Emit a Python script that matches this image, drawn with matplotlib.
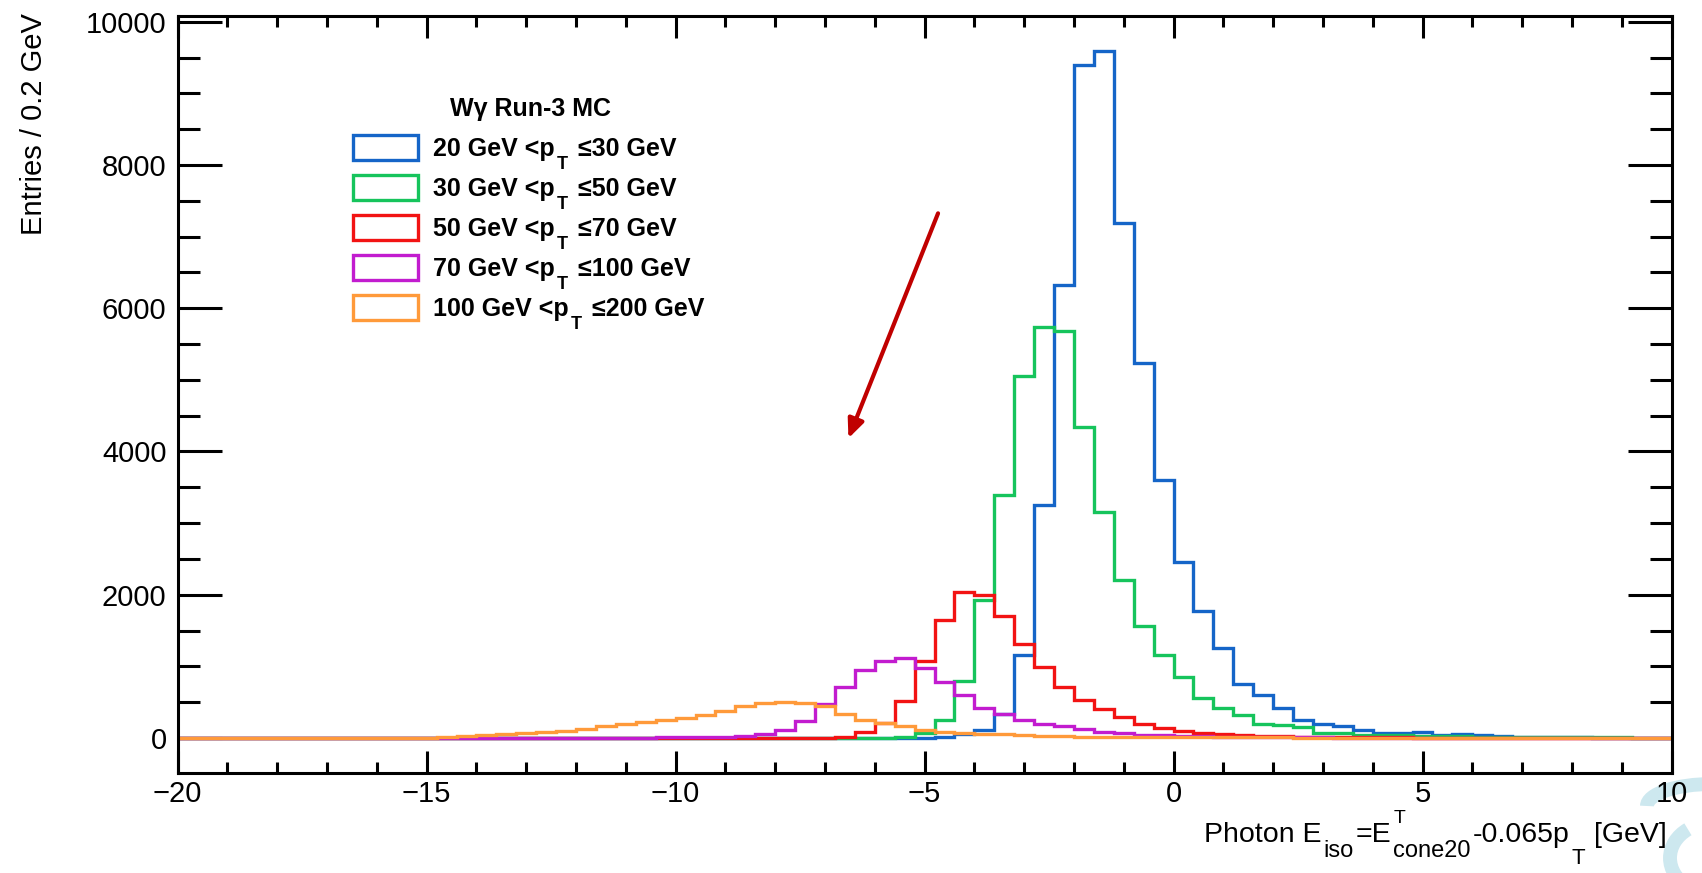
import matplotlib
matplotlib.use("Agg")
import matplotlib.pyplot as plt
import numpy as np
from matplotlib.ticker import MultipleLocator
from matplotlib.patches import Rectangle, Arc
from matplotlib.transforms import IdentityTransform

plt.rcParams['font.family'] = ['Liberation Sans', 'DejaVu Sans']
plt.rcParams['path.simplify'] = False

W, H = 1702, 873

# 75 bins of 0.4 GeV between -20 and 10
edges = np.linspace(-20, 10, 76)

pt_bins = [("20", "30"), ("30", "50"), ("50", "70"), ("70", "100"), ("100", "200")]
colors = ['#1565c8', '#16c45c', '#f21313', '#c21ccf', '#ff9a3a']

counts_20_30 = [0] * 36 + [
    2, 5, 9, 60, 110, 340, 1164, 3258, 6324, 9396,
    9596, 7195, 5240, 3602, 2455, 1770, 1255, 760, 605, 419,
    251, 195, 168, 107, 70, 70, 84, 37, 56, 37,
    23, 14, 10, 8, 7, 6, 5, 4, 4]

counts_30_50 = [0] * 33 + [
    2, 3, 5, 9, 70, 256, 791, 1931, 3388, 5054,
    5742, 5682, 4340, 3160, 2206, 1565, 1159, 845, 558, 422,
    320, 195, 177, 160, 70, 70, 47, 47, 37, 33,
    28, 23, 19, 16, 14, 12, 10, 9, 8, 7,
    6, 5]

counts_50_70 = [0] * 30 + [
    2, 3, 6, 14, 79, 209, 512, 1080, 1643, 2034,
    2001, 1699, 1318, 998, 714, 533, 405, 291, 197, 142,
    100, 72, 58, 45, 32, 24, 19, 15, 12, 10,
    8, 7, 6, 5, 4, 4, 3, 3, 2, 2,
    2, 1, 1, 1, 1]

counts_70_100 = [0] * 14 + [
    1, 1, 2, 2, 3, 3, 4, 4, 5, 6,
    7, 8, 10, 9, 23, 56, 116, 242, 475, 712,
    945, 1080, 1117, 977, 777, 596, 419, 335, 248, 200,
    165, 124, 88, 65, 47, 37, 28, 23, 19, 15,
    12, 10, 8, 7, 6, 5, 4, 4, 3, 3,
    2, 2, 2, 1, 1, 1, 1, 0, 0, 0,
    0]

counts_100_200 = [0] * 12 + [
    3, 9, 23, 37, 56, 70, 84, 102, 130, 168,
    191, 223, 256, 284, 316, 380, 445, 489, 507, 493,
    451, 335, 247, 209, 163, 116, 88, 74, 60, 50,
    40, 32, 25, 20, 17, 15, 13, 12, 11, 10,
    9, 8, 8, 7, 6, 6, 5, 5, 4, 4,
    4, 3, 3, 3, 2, 2, 2, 2, 1, 1,
    1, 1, 1]

series = [counts_20_30, counts_30_50, counts_50_70, counts_70_100, counts_100_200]

fig = plt.figure(figsize=(W / 100, H / 100), dpi=100)
ax = fig.add_axes([177.7 / W, 1 - 773.3 / H, (1671.5 - 177.7) / W, (773.3 - 16) / H])
ax.set_axisbelow(True)  # ticks sit under the histograms

for counts, c in zip(series, colors):
    ax.stairs(counts, edges, baseline=None, color=c, lw=2.4, joinstyle='miter')

ax.set_xlim(-20, 10)
ax.set_ylim(-493, 10080)

ax.xaxis.set_major_locator(MultipleLocator(5))
ax.xaxis.set_minor_locator(MultipleLocator(1))
ax.yaxis.set_major_locator(MultipleLocator(2000))
ax.yaxis.set_minor_locator(MultipleLocator(500))
ax.tick_params(which='both', direction='in', top=True, right=True,
               width=2.2, labelsize=21, color='black')
ax.tick_params(axis='x', which='major', length=16, pad=4.5)
ax.tick_params(axis='x', which='minor', length=7.6)
ax.tick_params(axis='y', which='major', length=31.7, pad=8)
ax.tick_params(axis='y', which='minor', length=15.8)
for sp in ax.spines.values():
    sp.set_linewidth(2.2)

# arrow pointing towards the high-pT tail
ax.annotate('', xy=(-6.53, 4184), xytext=(-4.73, 7325),
            arrowprops=dict(arrowstyle='-|>,head_length=0.8,head_width=0.35',
                            color='#c00000', lw=3, shrinkA=0, shrinkB=0,
                            mutation_scale=14))

renderer = fig.canvas.get_renderer()
ident = IdentityTransform()


def rich_text(x, y, groups, ha="left", **kw):
    # groups: (parts, gap) with parts = [(text, size, dy)] stacked at the same x
    placed = []
    for parts, gap in groups:
        arts = [fig.text(0, 0, s, fontsize=size, va="baseline", transform=ident, **kw)
                for s, size, dy in parts]
        width = max(a.get_window_extent(renderer).width for a in arts)
        placed.append((arts, [p[2] for p in parts], width, gap))
    total = sum(w + g for _, _, w, g in placed) - placed[-1][3]
    cx = x - total if ha == "right" else x
    for arts, dys, width, gap in placed:
        for a, dy in zip(arts, dys):
            a.set_position((cx, H - y + dy))
        cx += width + gap


# legend
fig.text(531, H - 116, "W\u03b3 Run-3 MC", ha='center', va='baseline',
         fontsize=18, weight='bold', transform=ident)
for k, ((lo, hi), c) in enumerate(zip(pt_bins, colors)):
    yc = 147.3 + 40 * k
    fig.add_artist(Rectangle((353.4, H - yc - 12.5), 65, 25, fill=False,
                             edgecolor=c, lw=2.4, transform=ident))
    rich_text(433.3, yc + 8.5, [
        ([(f"{lo} GeV <p", 18, 0)], 2),
        ([("T", 13, -13.5)], 10),
        ([(f"\u2264{hi} GeV", 18, 0)], 0),
    ], weight='bold')

# axis titles
fig.text(41.7, H - 13, "Entries / 0.2 GeV", rotation=90, rotation_mode='anchor',
         ha='right', va='baseline', fontsize=21, transform=ident)
rich_text(1667, 842, [
    ([("Photon E", 20.5, 0)], 2),
    ([("iso", 17, -15)], 2),
    ([("=E", 20.5, 0)], 2),
    ([("T", 14, 19), ("cone20", 17, -15)], 2),
    ([("-0.065p", 20.5, 0)], 2),
    ([("T", 16, -22)], 9),
    ([("[GeV]", 20.5, 0)], 0),
], ha="right")

# corner logo fragment
for arc in [Arc((1712, H - 806), 130, 44, theta1=90, theta2=180),
            Arc((1712, H - 858), 84, 70, theta1=130, theta2=230)]:
    arc.set(lw=10, color='#cde8ef', transform=ident, zorder=-1)
    fig.add_artist(arc)

fig.savefig("out.png", dpi=100)
